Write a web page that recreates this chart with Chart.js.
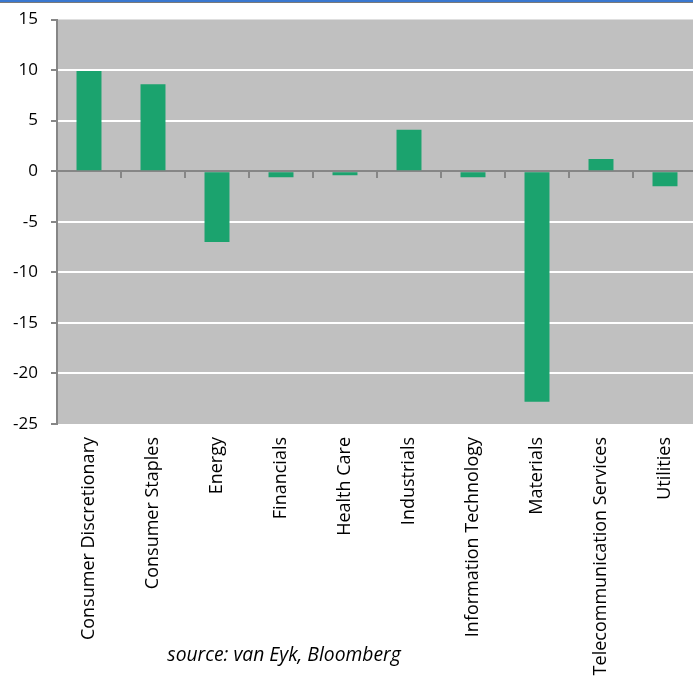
<!DOCTYPE html>
<html>
<head>
<meta charset="utf-8">
<script src="https://cdn.jsdelivr.net/npm/chart.js@4.4.0/dist/chart.umd.min.js"></script>
<style>
  html, body { margin: 0; padding: 0; background: #fff; }
  #wrap { position: relative; width: 693px; height: 681px; overflow: hidden; }
  #band { position: absolute; left: 0; top: 0; width: 693px; height: 2px; background: #3a78d0; border-bottom: 1px solid #7a7a7a; z-index: 2; }
  #holder { position: absolute; left: 0; top: 0; width: 700px; height: 681px; }
</style>
</head>
<body>
<div id="wrap">
  <div id="band"></div>
  <div id="holder"><canvas id="c" width="700" height="681"></canvas></div>
</div>
<script>
const categories = ["Consumer Discretionary", "Consumer Staples", "Energy", "Financials", "Health Care", "Industrials", "Information Technology", "Materials", "Telecommunication Services", "Utilities"];
const values = [9.9, 8.6, -7.0, -0.6, -0.4, 4.1, -0.6, -22.8, 1.2, -1.5];
const yMin = -25, yMax = 15, yStep = 5;
const sourceText = "source: van Eyk, Bloomberg";

const FONT = "'Open Sans', Lato, sans-serif";
const AXIS_GRAY = "#868686";

const bgPlugin = {
  id: 'plotBg',
  beforeDraw(chart) {
    const { ctx, chartArea: a } = chart;
    ctx.save();
    ctx.fillStyle = '#c0c0c0';
    ctx.fillRect(a.left, a.top, a.right - a.left, a.bottom - a.top);
    ctx.restore();
  },
  afterDraw(chart) {
    const { ctx, chartArea: a } = chart;
    ctx.save();
    ctx.font = "italic 19.3px " + FONT;
    ctx.fillStyle = '#000';
    ctx.textAlign = 'center';
    ctx.textBaseline = 'alphabetic';
    ctx.fillText(sourceText, a.left + 227, a.bottom + 237);
    ctx.restore();
  }
};

new Chart(document.getElementById('c'), {
  type: 'bar',
  data: {
    labels: categories,
    datasets: [{
      data: values,
      backgroundColor: '#1ba36e',
      borderWidth: 0,
      barPercentage: 0.39,
      categoryPercentage: 1.0,
      xAxisID: 'x'
    }]
  },
  options: {
    responsive: false,
    animation: false,
    devicePixelRatio: 1,
    layout: { padding: { top: 19.5, right: 3, left: 0, bottom: 0 } },
    plugins: { legend: { display: false }, tooltip: { enabled: false } },
    scales: {
      x: {
        type: 'category',
        position: { y: 0 },
        offset: true,
        grid: { offset: true, drawOnChartArea: false, drawTicks: true, tickLength: 6, color: AXIS_GRAY, lineWidth: 2 },
        border: { display: true, color: AXIS_GRAY, width: 2 },
        ticks: { display: false },
        afterFit(s) { s.height = 0; }
      },
      x2: {
        type: 'category',
        labels: categories,
        position: 'bottom',
        offset: true,
        grid: { display: false, drawTicks: false },
        border: { display: false },
        ticks: { minRotation: 90, maxRotation: 90, autoSkip: false, padding: 13, color: '#000', font: { family: FONT, size: 18 } },
        afterFit(s) { s.height = 257; s.paddingLeft = 0; s.paddingRight = 0; }
      },
      y: {
        min: yMin, max: yMax,
        ticks: { stepSize: yStep, color: '#000', padding: 13, font: { family: FONT, size: 17 } },
        grid: {
          color: (c) => (c.tick && (c.tick.value === yMin || c.tick.value === yMax || c.tick.value === 0)) ? 'rgba(0,0,0,0)' : '#ffffff',
          lineWidth: 2,
          tickColor: AXIS_GRAY,
          tickLength: 6,
          drawTicks: true
        },
        border: { display: true, color: AXIS_GRAY, width: 2 },
        afterFit(s) { s.width = 57; s.paddingTop = 0; s.paddingBottom = 0; }
      }
    }
  },
  plugins: [bgPlugin]
});
</script>
</body>
</html>
